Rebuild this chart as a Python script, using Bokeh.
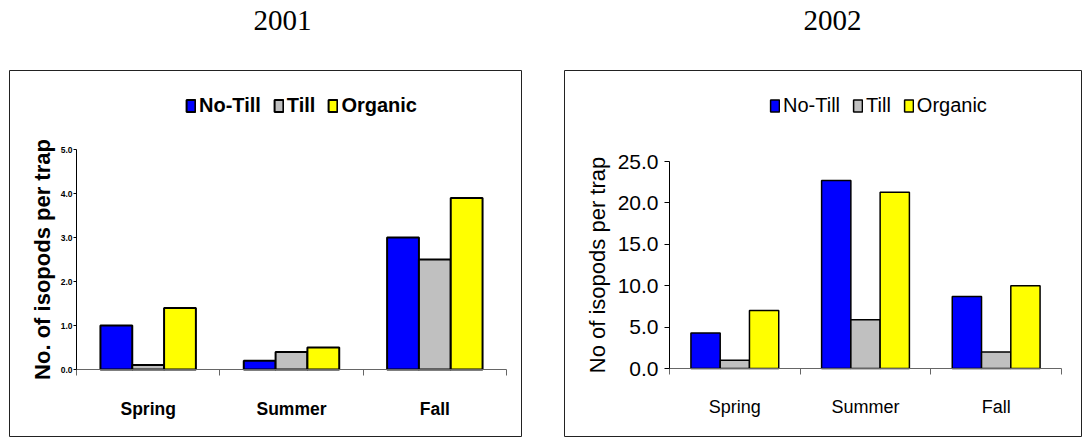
from bokeh.plotting import figure
from bokeh.models import (Range1d, LinearAxis, FixedTicker, Legend, LegendItem,
                          Spacer, PrintfTickFormatter, Grid, Label)
from bokeh.layouts import row, column
from bokeh.embed import file_html
from bokeh.resources import INLINE

# ---------------- data ----------------
seasons = ["Spring", "Summer", "Fall"]
series = ["No-Till", "Till", "Organic"]
colors = ["#0000FF", "#C0C0C0", "#FFFF00"]
years = ["2001", "2002"]

notill_2001 = [1.0, 0.2, 3.0]
till_2001 = [0.1, 0.4, 2.5]
organic_2001 = [1.4, 0.5, 3.9]

notill_2002 = [4.3, 22.7, 8.7]
till_2002 = [1.0, 5.9, 2.0]
organic_2002 = [7.0, 21.3, 10.0]

yticks_2001 = [0, 1, 2, 3, 4, 5]
ytick_labels_2001 = ["0.0", "1.0", "2.0", "3.0", "4.0", "5.0"]
yticks_2002 = [0, 5, 10, 15, 20, 25]
ytick_labels_2002 = ["0.0", "5.0", "10.0", "15.0", "20.0", "25.0"]

FONT = "Liberation Sans"
SERIF = "Liberation Serif"
OFF = 8            # left page margin handled by spacers
TITLE_H = 69       # heading strip: page y 0 .. 69
PANEL_Y = TITLE_H  # panel canvases start at page y 69
H = 368            # panel height (page y 69 .. 437)
TOP = 1            # frame top at page y 70


def make_panel(values, yticks, ytick_labels, ylabel, bold,
               fig_left, fig_width, x0_px, x3_px, y0_px, ytop_px,
               legend_x, tick_font, tick_out, tick_standoff,
               cat_font, cat_standoff, label_standoff, bar_w, bar_lw):
    style = "bold" if bold else "normal"
    # frame in page coordinates
    f_left = fig_left + 1
    f_right = fig_left + fig_width - 1
    f_top = PANEL_Y + TOP
    f_bottom = PANEL_Y + H - 1
    ncat = len(seasons)
    xs = (x3_px - x0_px) / ncat
    ymax = yticks[-1]
    ys = (y0_px - ytop_px) / ymax
    xr = Range1d((f_left - x0_px) / xs, (f_right - x0_px) / xs)
    yr = Range1d((y0_px - f_bottom) / ys, (y0_px - f_top) / ys)

    p = figure(width=fig_width, height=H, x_range=xr, y_range=yr, title=None,
               min_border_left=1, min_border_right=1, min_border_top=TOP,
               min_border_bottom=1, toolbar_location=None, output_backend="svg",
               x_axis_location=None, y_axis_location=None)
    for r in list(p.center):
        if isinstance(r, Grid):
            r.visible = False
    p.outline_line_color = "#222222"
    p.outline_line_width = 1
    p.background_fill_color = "white"
    p.border_fill_color = "white"

    # bars
    bars = []
    for j, (name, col) in enumerate(zip(series, colors)):
        xpos = [i + 0.5 + (j - 1) * bar_w for i in range(ncat)]
        r = p.vbar(x=xpos, top=values[j], width=bar_w, bottom=0,
                   fill_color=col, line_color="black", line_width=bar_lw)
        bars.append(r)

    legend = Legend(items=[LegendItem(label=s, renderers=[r])
                           for s, r in zip(series, bars)],
                    orientation="horizontal",
                    location=(legend_x, (f_bottom - 117)),
                    glyph_width=11, glyph_height=15, label_standoff=3,
                    spacing=12, padding=0, margin=0,
                    border_line_color=None, background_fill_alpha=0,
                    label_text_font=FONT, label_text_font_size="20px",
                    label_text_font_style=style, label_text_color="black")
    p.add_layout(legend, "center")

    # y axis
    yax = LinearAxis(fixed_location=0, bounds=(0, ymax),
                     ticker=FixedTicker(ticks=yticks, minor_ticks=[]),
                     formatter=PrintfTickFormatter(format="%.1f"),
                     major_label_overrides={t: l for t, l in zip(yticks, ytick_labels)},
                     axis_label=ylabel)
    yax.axis_line_color = "black"
    yax.axis_line_width = 1
    yax.major_tick_line_color = "black"
    yax.major_tick_out = tick_out
    yax.major_tick_in = 0
    yax.minor_tick_line_color = None
    yax.major_label_standoff = tick_standoff
    yax.major_label_text_font = FONT
    yax.major_label_text_font_size = tick_font
    yax.major_label_text_font_style = style
    yax.major_label_text_color = "black"
    yax.axis_label_text_font = FONT
    yax.axis_label_text_font_size = "22px"
    yax.axis_label_text_font_style = style
    yax.axis_label_text_color = "black"
    yax.axis_label_standoff = label_standoff
    p.add_layout(yax, "left")

    # x axis: labels at category centres, ticks at category boundaries
    centres = [i + 0.5 for i in range(ncat)]
    bounds_t = [i for i in range(ncat + 1)]
    xax = LinearAxis(fixed_location=0, bounds=(0, ncat),
                     ticker=FixedTicker(ticks=centres, minor_ticks=bounds_t),
                     major_label_overrides={c: s for c, s in zip(centres, seasons)})
    xax.axis_line_color = "#666666"
    xax.axis_line_width = 1
    xax.major_tick_line_color = None
    xax.major_tick_out = 0
    xax.major_tick_in = 0
    xax.minor_tick_line_color = "#666666"
    xax.minor_tick_out = 6
    xax.minor_tick_in = 0
    xax.major_label_standoff = cat_standoff
    xax.major_label_text_font = FONT
    xax.major_label_text_font_size = cat_font
    xax.major_label_text_font_style = style
    xax.major_label_text_color = "black"
    p.add_layout(xax, "below")
    return p


# heading strip with the two year captions
TW = 1074
ph = figure(width=TW, height=TITLE_H, x_range=Range1d(0, TW), y_range=Range1d(0, TITLE_H),
            title=None, min_border=0, toolbar_location=None, output_backend="svg",
            x_axis_location=None, y_axis_location=None)
for r in list(ph.center):
    if isinstance(r, Grid):
        r.visible = False
ph.outline_line_color = None
ph.background_fill_color = "white"
ph.border_fill_color = "white"
title_left_px = [253, 803]     # page x of caption left edges
TITLE_BASE = 49                # caption baseline, px above the strip's bottom
for yr_text, tx in zip(years, title_left_px):
    ph.add_layout(Label(x=tx - OFF, y=TITLE_BASE,
                        x_units="screen", y_units="screen", text=yr_text,
                        text_font=SERIF, text_font_size="29px",
                        text_font_style="normal", text_color="black",
                        text_align="left", text_baseline="alphabetic"))

p1 = make_panel([notill_2001, till_2001, organic_2001],
                yticks_2001, ytick_labels_2001, "No. of isopods per trap", True,
                fig_left=8, fig_width=514, x0_px=76, x3_px=506, y0_px=369, ytop_px=149,
                legend_x=176, tick_font="8.5px", tick_out=3,
                tick_standoff=1, cat_font="17.5px", cat_standoff=23, label_standoff=3,
                bar_w=0.222, bar_lw=2)

p2 = make_panel([notill_2002, till_2002, organic_2002],
                yticks_2002, ytick_labels_2002, "No of isopods per trap", False,
                fig_left=563, fig_width=519, x0_px=669, x3_px=1061, y0_px=368, ytop_px=161,
                legend_x=205, tick_font="21px", tick_out=5,
                tick_standoff=6, cat_font="18px", cat_standoff=22, label_standoff=5,
                bar_w=0.224, bar_lw=1.5)

layout = column(row(Spacer(width=OFF, height=TITLE_H), ph),
                row(Spacer(width=OFF, height=H), p1, Spacer(width=41, height=H), p2))
open("out.html", "w").write(file_html(layout, INLINE))
